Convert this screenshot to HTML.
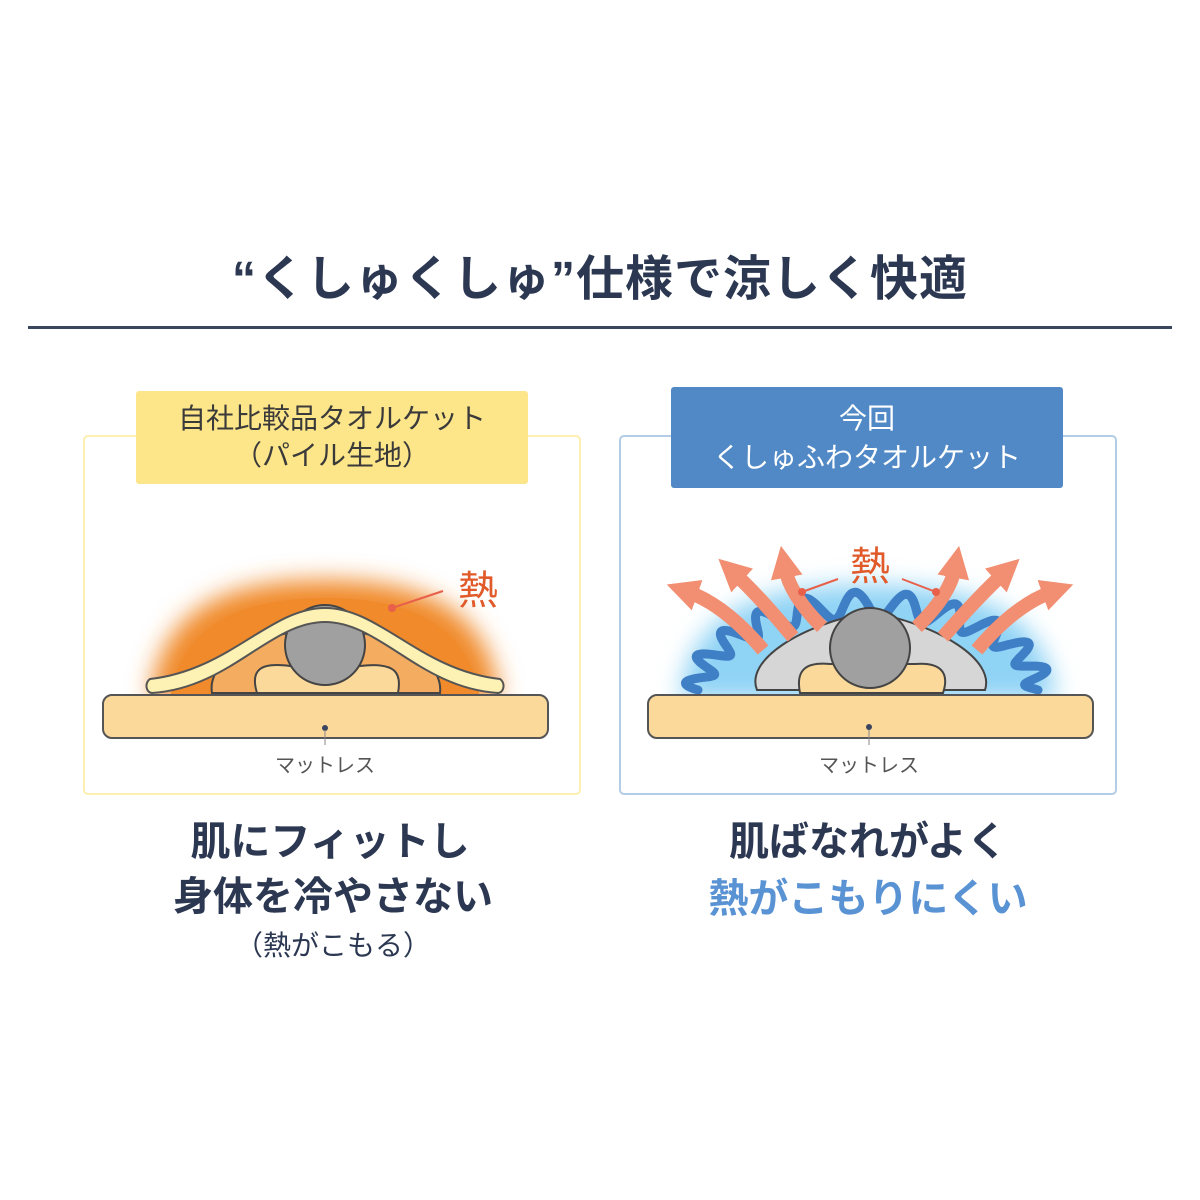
<!DOCTYPE html>
<html><head><meta charset="utf-8"><style>
html,body{margin:0;padding:0;background:#fff;width:1200px;height:1200px;overflow:hidden}
svg text{font-family:"Liberation Sans","Noto Sans CJK JP",sans-serif}
</style></head><body>
<svg width="1200" height="1200" viewBox="0 0 1200 1200" xmlns="http://www.w3.org/2000/svg">
<defs>
<filter id="blur" x="-30%" y="-30%" width="160%" height="160%"><feGaussianBlur stdDeviation="12"/></filter>
<marker id="ah" viewBox="0 0 10 10" markerWidth="2.3" markerHeight="2.3" refX="3" refY="5" orient="auto">
<path d="M0,0 L10,5 L0,10 Z" fill="#f28f72"/>
</marker>
</defs>
<text x="600" y="295" text-anchor="middle" font-size="48" font-weight="bold" letter-spacing="1" fill="#2c3852">“くしゅくしゅ”仕様で涼しく快適</text>
<rect x="28" y="326" width="1144" height="3" fill="#3a4560"/>

<!-- left panel -->
<rect x="84" y="436" width="496" height="358" rx="4" fill="#fff" stroke="#fcefb0" stroke-width="2"/>
<rect x="136" y="391" width="392" height="93" rx="3" fill="#fde68a"/>
<text x="332" y="428" text-anchor="middle" font-size="28" fill="#3a3a3a">自社比較品タオルケット</text>
<text x="332" y="465" text-anchor="middle" font-size="28" fill="#3a3a3a">（パイル生地）</text>
<path d="M150,700 C160,600 240,580 325,580 C410,580 490,600 500,700 Z" fill="#f08a2a" filter="url(#blur)"/>
<path d="M170,700 C180,620 250,598 325,598 C400,598 470,620 480,700 Z" fill="#f08a2a"/>
<path d="M212,693 C205,650 290,628 325,628 C360,628 445,650 440,693 Z" fill="#f4ad60" stroke="#444" stroke-width="2"/>
<path d="M257,693 C250,670 260,662 290,666 L360,666 C395,662 402,672 398,693 Z" fill="#fbd99b" stroke="#444" stroke-width="2"/>
<circle cx="325" cy="645" r="40" fill="#a0a0a0" stroke="#444" stroke-width="2"/>
<path d="M150,679 C230,670 270,608 325,608 C380,608 420,670 500,679 C505,682 505,692 498,693 C420,688 380,622 325,622 C270,622 230,688 152,693 C145,692 145,682 150,679 Z" fill="#fdf1b4" stroke="#555" stroke-width="2" stroke-linejoin="round"/>
<rect x="103" y="695" width="445" height="43" rx="9" fill="#fbd99b" stroke="#555" stroke-width="2"/>
<circle cx="325" cy="728" r="3" fill="#3a4560"/><line x1="325" y1="730" x2="325" y2="745" stroke="#888"/>
<text x="325" y="772" text-anchor="middle" font-size="20" fill="#555">マットレス</text>
<line x1="443" y1="591" x2="392" y2="608" stroke="#e8604a" stroke-width="2"/><circle cx="392" cy="608" r="4" fill="#e8604a"/>
<text x="478" y="604" text-anchor="middle" font-size="40" fill="#e05a2a">熱</text>

<!-- right panel -->
<rect x="620" y="436" width="496" height="358" rx="4" fill="#fff" stroke="#b3cde8" stroke-width="2"/>
<rect x="671" y="387" width="392" height="101" rx="3" fill="#5189c6"/>
<text x="867" y="428" text-anchor="middle" font-size="28" fill="#fff">今回</text>
<text x="867" y="467" text-anchor="middle" font-size="28" fill="#fff">くしゅふわタオルケット</text>
<path d="M680,700 C690,600 780,585 868,585 C956,585 1046,600 1056,700 Z" fill="#8fd3f5" filter="url(#blur)"/>
<g id="waves" fill="none" stroke="#3f7fc6" stroke-width="9" stroke-linecap="round" stroke-linejoin="round"></g>
<path d="M757,690 C745,660 800,625 870,612 C940,625 995,660 985,690 Z" fill="#d6d6d6" stroke="#444" stroke-width="2"/>
<path d="M800,693 C795,668 808,662 830,664 L915,664 C940,662 950,672 943,693 Z" fill="#fbd99b" stroke="#444" stroke-width="2"/>
<circle cx="870" cy="648" r="40" fill="#a0a0a0" stroke="#444" stroke-width="2"/>
<g fill="none" stroke="#f28f72" stroke-width="14" marker-end="url(#ah)">
<path d="M763,650 Q725,605 688,592"/>
<path d="M793,637 Q758,595 735,574"/>
<path d="M822,627 Q790,595 785,568"/>
<path d="M917,627 Q950,595 955,568"/>
<path d="M943,637 Q980,595 1003,574"/>
<path d="M977,650 Q1015,605 1052,592"/>
</g>
<line x1="838" y1="579" x2="802" y2="592" stroke="#e8604a" stroke-width="2"/><circle cx="802" cy="592" r="4" fill="#e8604a"/>
<line x1="902" y1="579" x2="936" y2="592" stroke="#e8604a" stroke-width="2"/><circle cx="936" cy="592" r="4" fill="#e8604a"/>
<text x="870" y="580" text-anchor="middle" font-size="40" fill="#e05a2a">熱</text>
<rect x="648" y="695" width="445" height="43" rx="9" fill="#fbd99b" stroke="#555" stroke-width="2"/>
<circle cx="869" cy="727" r="3" fill="#3a4560"/><line x1="869" y1="730" x2="869" y2="745" stroke="#888"/>
<text x="869" y="772" text-anchor="middle" font-size="20" fill="#555">マットレス</text>

<!-- bottom text -->
<text x="330" y="855" text-anchor="middle" font-size="40" font-weight="bold" fill="#2c3852">肌にフィットし</text>
<text x="333" y="910" text-anchor="middle" font-size="40" font-weight="bold" fill="#2c3852">身体を冷やさない</text>
<text x="333" y="955" text-anchor="middle" font-size="28" fill="#2c3852">（熱がこもる）</text>
<text x="868" y="855" text-anchor="middle" font-size="40" font-weight="bold" fill="#2c3852">肌ばなれがよく</text>
<text x="868" y="912" text-anchor="middle" font-size="40" font-weight="bold" fill="#5a93d4">熱がこもりにくい</text>
</svg>
<script>
(function(){
var g=document.getElementById('waves');
var cx=868,cy=690,rx=170,ry=85,n=11,amp=13;
var d='';
for(var i=0;i<=300;i++){
 var f=i/300,t=Math.PI*(1-f);
 var w=amp*Math.sin(f*Math.PI*2*n);
 var x=cx+(rx+w)*Math.cos(t), y=cy-(ry+w)*Math.sin(t);
 d+=(i?'L':'M')+x.toFixed(1)+','+y.toFixed(1);
}
var p=document.createElementNS('http://www.w3.org/2000/svg','path');
p.setAttribute('d',d);g.appendChild(p);
})();
</script>
</body></html>
